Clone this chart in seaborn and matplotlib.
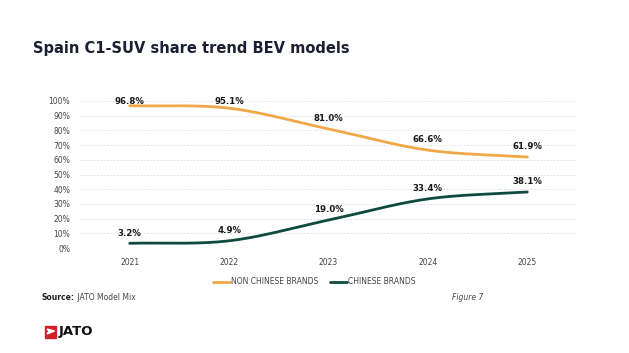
import numpy as np
import pandas as pd
import matplotlib.pyplot as plt
import seaborn as sns
from matplotlib.patches import Rectangle, Polygon

# Chart data
years = ["2021", "2022", "2023", "2024", "2025"]
non_chinese = [96.8, 95.1, 81.0, 66.6, 61.9]
chinese = [3.2, 4.9, 19.0, 33.4, 38.1]
series_names = ["NON CHINESE BRANDS", "CHINESE BRANDS"]
colors = ["#F0A847", "#0E4A3F"]


def smooth(vals, n=40):
    # catmull-rom curve through the points (excel style smoothed line)
    p = np.array(vals, dtype=float)
    p = np.concatenate([[2 * p[0] - p[1]], p, [2 * p[-1] - p[-2]]])
    xs, ys = [], []
    for i in range(1, len(p) - 2):
        t = np.linspace(0, 1, n, endpoint=(i == len(p) - 3))
        p0, p1, p2, p3 = p[i - 1], p[i], p[i + 1], p[i + 2]
        y = 0.5 * ((2 * p1) + (-p0 + p2) * t + (2 * p0 - 5 * p1 + 4 * p2 - p3) * t ** 2
                   + (-p0 + 3 * p1 - 3 * p2 + p3) * t ** 3)
        xs.append(i - 1 + t)
        ys.append(y)
    return np.concatenate(xs), np.concatenate(ys)


frames = []
for name, vals in zip(series_names, [non_chinese, chinese]):
    sx, sy = smooth(vals)
    frames.append(pd.DataFrame({"x": sx, "share": sy, "series": name}))
df = pd.concat(frames, ignore_index=True)

sns.set_theme(style="white")
plt.rcParams["font.family"] = ["DejaVu Sans"]

fig = plt.figure(figsize=(6.29, 3.53), dpi=100)
ax = fig.add_axes([80 / 629, 1 - 248 / 353, 497 / 629, 147 / 353])

sns.lineplot(data=df, x="x", y="share", hue="series", palette=colors,
             linewidth=2, ax=ax, legend=False, sort=False)

# data labels
for vals in [non_chinese, chinese]:
    for i, v in enumerate(vals):
        ax.text(i, min(v + 7, 100), f"{v:.1f}%", ha="center", va="center",
                fontsize=6.2, fontweight="bold", color="#1a1a1a", clip_on=False)

ax.set_xlim(-0.5, len(years) - 0.5)
ax.set_ylim(0, 100)
ax.set_xticks(range(len(years)))
ax.set_xticklabels(years)
ax.set_yticks(range(0, 101, 10))
ax.set_yticklabels([f"{t}%" for t in range(0, 101, 10)])
ax.tick_params(axis="both", length=0, labelsize=5.5, colors="#444444")
ax.tick_params(axis="x", pad=7)
ax.tick_params(axis="y", pad=7)
ax.set_xlabel("")
ax.set_ylabel("")
for t in range(10, 101, 10):
    ax.axhline(t, color="#dddddd", linewidth=0.6, linestyle=(0, (2, 2)), zorder=0)
ax.axhline(0, color="#d0d0d0", linewidth=0.8, zorder=0)
for s in ax.spines.values():
    s.set_visible(False)

# legend
handles = [plt.Line2D([0], [0], color=c, linewidth=2) for c in colors]
fig.legend(handles, series_names, loc="center", bbox_to_anchor=(0.5, 1 - 282 / 353),
           ncol=2, frameon=False, fontsize=5.5, handlelength=2.2, handletextpad=0.1,
           columnspacing=1.6, labelcolor="#444444")

# title and footer
fig.text(33 / 629, 1 - 48 / 353, "Spain C1-SUV share trend BEV models", fontsize=10.5,
         fontweight="bold", color="#1b1f33", va="center", ha="left")
t1 = fig.text(42 / 629, 1 - 300 / 353, "Source:", fontsize=5.5, fontweight="bold",
              color="#222222", va="baseline")
ax.annotate(" JATO Model Mix", xy=(1, 0), xycoords=t1, fontsize=5.5, color="#444444",
            va="bottom", ha="left", annotation_clip=False)
fig.text(483 / 629, 1 - 298 / 353, "Figure 7", fontsize=5.5, style="italic",
         color="#444444", va="center", ha="right")

# JATO logo
fig.patches.append(Rectangle((45 / 629, 1 - 338 / 353), 11 / 629, 12 / 353,
                             transform=fig.transFigure, color="#D0202A"))
fig.patches.append(Polygon([(47 / 629, 1 - 329 / 353), (54.5 / 629, 1 - 331 / 353),
                            (47 / 629, 1 - 334 / 353), (49 / 629, 1 - 331 / 353)],
                           closed=True, transform=fig.transFigure, color="white"))
fig.text(58.5 / 629, 1 - 332 / 353, "JATO", fontsize=9.5, fontweight="bold",
         color="#111111", va="center", ha="left")

fig.savefig("out.png", dpi=100, facecolor="white")
